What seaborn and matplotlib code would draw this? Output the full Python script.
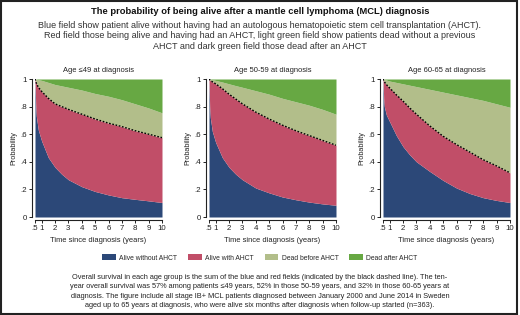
import numpy as np
import matplotlib
matplotlib.use("Agg")
import matplotlib.pyplot as plt
from matplotlib.patches import Patch, Rectangle
import seaborn as sns

# time points (years since diagnosis)
t = [0.5, 0.55, 0.6, 0.75, 1, 1.5, 2, 2.5, 3, 4, 5, 6, 7, 8, 9, 10]

# alive without AHCT (blue field upper edge)
blue_49 = [1.0, 0.82, 0.73, 0.63, 0.55, 0.43, 0.36, 0.31, 0.27, 0.22, 0.185, 0.16, 0.14, 0.128, 0.117, 0.105]
blue_5059 = [1.0, 0.80, 0.72, 0.62, 0.54, 0.43, 0.36, 0.31, 0.27, 0.21, 0.175, 0.145, 0.125, 0.108, 0.095, 0.085]
blue_6065 = [1.0, 0.86, 0.80, 0.74, 0.69, 0.59, 0.51, 0.45, 0.40, 0.33, 0.265, 0.21, 0.17, 0.14, 0.12, 0.105]

# overall survival (blue + red, dashed line)
os_49 = [1.0, 0.985, 0.97, 0.94, 0.91, 0.86, 0.82, 0.80, 0.78, 0.745, 0.71, 0.68, 0.655, 0.625, 0.60, 0.575]
os_5059 = [1.0, 0.995, 0.99, 0.98, 0.965, 0.93, 0.89, 0.855, 0.82, 0.76, 0.71, 0.665, 0.625, 0.59, 0.555, 0.52]
os_6065 = [1.0, 0.99, 0.98, 0.96, 0.935, 0.885, 0.84, 0.79, 0.745, 0.66, 0.585, 0.525, 0.47, 0.415, 0.37, 0.32]

# 1 - dead after AHCT (light green upper edge)
top_49 = [1.0, 1.0, 0.998, 0.995, 0.99, 0.975, 0.96, 0.95, 0.94, 0.92, 0.895, 0.875, 0.85, 0.82, 0.79, 0.755]
top_5059 = [1.0, 1.0, 0.998, 0.995, 0.99, 0.978, 0.965, 0.952, 0.94, 0.915, 0.89, 0.86, 0.835, 0.81, 0.78, 0.745]
top_6065 = [1.0, 0.999, 0.998, 0.993, 0.985, 0.975, 0.965, 0.955, 0.945, 0.925, 0.905, 0.885, 0.865, 0.845, 0.82, 0.795]

panel_titles = ["Age \u226449 at diagnosis", "Age 50-59 at diagnosis", "Age 60-65 at diagnosis"]
legend_labels = ["Alive without AHCT", "Alive with AHCT", "Dead before AHCT", "Dead after AHCT"]
x_ticks = [0.5, 1, 2, 3, 4, 5, 6, 7, 8, 9, 10]
x_ticklabels = [".5", "1", "2", "3", "4", "5", "6", "7", "8", "9", "10"]
y_ticks = [0, 0.2, 0.4, 0.6, 0.8, 1]
y_ticklabels = ["0", ".2", ".4", ".6", ".8", "1"]

COLORS = ["#2C4878", "#C14E68", "#B2BE8A", "#67A843"]

TITLE = "The probability of being alive after a mantle cell lymphoma (MCL) diagnosis"
SUBTITLE = ("Blue field show patient alive without having had an autologous hematopoietic stem cell transplantation (AHCT).\n"
            "Red field those being alive and having had an AHCT, light green field show patients dead without a previous\n"
            "AHCT and dark green field those dead after an AHCT")
CAPTION = ("Overall survival in each age group is the sum of the blue and red fields (indicated by the black dashed line). The ten-\n"
           "year overall survival was 57% among patients \u226449 years, 52% in those 50-59 years, and 32% in those 60-65 years at\n"
           "diagnosis. The figure include all stage IB+ MCL patients diagnosed between January 2000 and June 2014 in Sweden\n"
           "aged up to 65 years at diagnosis, who were alive six months after diagnosis when follow-up started (n=363).")


def main():
    sns.set_theme(style="white")
    plt.rcParams['font.family'] = ['Liberation Sans', 'DejaVu Sans']

    fig = plt.figure(figsize=(5.2, 3.15), dpi=100)
    fig.patch.set_facecolor("white")

    panels = [(blue_49, os_49, top_49), (blue_5059, os_5059, top_5059), (blue_6065, os_6065, top_6065)]
    lefts = [35 / 520, 209 / 520, 383 / 520]
    for left, title, (blue, overall, top) in zip(lefts, panel_titles, panels):
        ax = fig.add_axes([left, 1 - 217 / 315, 127 / 520, 138 / 315])
        ax.fill_between(t, 0, blue, color=COLORS[0], lw=0)
        ax.fill_between(t, blue, overall, color=COLORS[1], lw=0)
        ax.fill_between(t, overall, top, color=COLORS[2], lw=0)
        ax.fill_between(t, top, 1, color=COLORS[3], lw=0)
        sns.lineplot(x=t, y=overall, ax=ax, color="black", lw=1.0, linestyle=(0, (1.2, 1.2)))
        ax.set_xlim(0.5, 10)
        ax.set_ylim(0, 1)
        ax.set_xticks(x_ticks)
        ax.set_xticklabels(x_ticklabels)
        ax.set_yticks(y_ticks)
        ax.set_yticklabels(y_ticklabels)
        for s in ["top", "right"]:
            ax.spines[s].set_visible(False)
        for s in ["left", "bottom"]:
            ax.spines[s].set_position(("outward", 2))
            ax.spines[s].set_color("#222222")
            ax.spines[s].set_linewidth(0.8)
        ax.tick_params(axis="both", which="both", length=2.5, width=0.7, color="#222222",
                       labelsize=5.7, pad=1.5, labelcolor="#222222", bottom=True, left=True)
        ax.set_title(title, fontsize=5.4, color="#222222", pad=5)
        ax.set_xlabel("Time since diagnosis (years)", fontsize=5.4, color="#222222", labelpad=3)
        ax.set_ylabel("Probability", fontsize=5.2, color="#222222", labelpad=2)
        ax.grid(False)

    fig.text(0.5, 1 - 12 / 315, TITLE, ha="center", va="center", fontsize=6.75, weight="bold", color="#111111")
    fig.text(0.5, 1 - 36 / 315, SUBTITLE, ha="center", va="center", fontsize=6.5, color="#333333", linespacing=1.2)

    handles = [Patch(facecolor=c, edgecolor="none") for c in COLORS]
    fig.legend(handles, legend_labels, loc="center", bbox_to_anchor=(0.5, 1 - 258 / 315), ncol=4,
               frameon=False, fontsize=4.9, handlelength=2.0, handleheight=1.0, handletextpad=0.5,
               columnspacing=1.6)

    fig.text(0.5, 1 - 291.5 / 315, CAPTION, ha="center", va="center", fontsize=5.35, color="#222222",
             linespacing=1.45)

    fig.patches.append(Rectangle((0.002, 0.004), 0.993, 0.993, transform=fig.transFigure,
                                 fill=False, edgecolor="#222222", lw=1.5))

    fig.savefig("out.png", dpi=100)
    plt.close(fig)


if __name__ == "__main__":
    main()
